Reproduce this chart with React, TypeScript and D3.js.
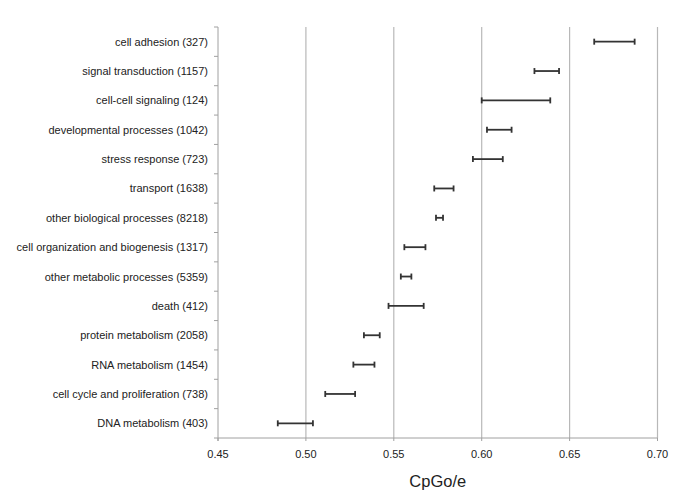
import React from "react";
import * as d3 from "d3";

const categories = [
  "cell adhesion (327)",
  "signal transduction (1157)",
  "cell-cell signaling (124)",
  "developmental processes (1042)",
  "stress response (723)",
  "transport (1638)",
  "other biological processes (8218)",
  "cell organization and biogenesis (1317)",
  "other metabolic processes (5359)",
  "death (412)",
  "protein metabolism (2058)",
  "RNA metabolism (1454)",
  "cell cycle and proliferation (738)",
  "DNA metabolism (403)",
];
const lowValues = [0.664, 0.630, 0.600, 0.603, 0.595, 0.573, 0.574, 0.556, 0.554, 0.547, 0.533, 0.527, 0.511, 0.484];
const highValues = [0.687, 0.644, 0.639, 0.617, 0.612, 0.584, 0.578, 0.568, 0.560, 0.567, 0.542, 0.539, 0.528, 0.504];
const xTicks = [0.45, 0.5, 0.55, 0.6, 0.65, 0.7];
const xLabel = "CpGo/e";

const W = 685;
const H = 496;
const left = 218;
const right = 657.5;
const top = 27;
const bottom = 438;

export default function App() {
  const x = d3.scaleLinear().domain([0.45, 0.7]).range([left, right]);
  const y = d3.scaleBand<string>().domain(categories).range([top, bottom]);
  const font = "Liberation Sans, Arial, Helvetica, sans-serif";
  const bounds = d3.range(categories.length + 1).map((i) => top + i * y.bandwidth());
  return (
    <svg width={W} height={H} style={{ position: "absolute", left: 0, top: 0 }} fontFamily={font}>
      <rect x={0} y={0} width={W} height={H} fill="#fff" />
      {xTicks.slice(1).map((t) => (
        <line key={t} x1={x(t)} x2={x(t)} y1={top} y2={bottom} stroke="#b8b8b8" strokeWidth={1.2} />
      ))}
      <line x1={left} x2={left} y1={top} y2={bottom + 3} stroke="#a0a0a0" strokeWidth={1} />
      <line x1={left} x2={right} y1={bottom} y2={bottom} stroke="#a0a0a0" strokeWidth={1} />
      {bounds.map((b, i) => (
        <line key={i} x1={left - 4} x2={left} y1={b} y2={b} stroke="#a0a0a0" strokeWidth={1} />
      ))}
      {xTicks.map((t) => (
        <line key={"t" + t} x1={x(t)} x2={x(t)} y1={bottom} y2={bottom + 3} stroke="#a0a0a0" strokeWidth={1} />
      ))}
      {categories.map((c, i) => {
        const cy = (y(c) as number) + y.bandwidth() / 2;
        const x1 = x(lowValues[i]);
        const x2 = x(highValues[i]);
        return (
          <g key={c}>
            <text x={208} y={cy} textAnchor="end" dominantBaseline="central" fontSize={11} fill="#222">
              {c}
            </text>
            <line x1={x1} x2={x2} y1={cy} y2={cy} stroke="#333" strokeWidth={1.8} />
            <line x1={x1} x2={x1} y1={cy - 3} y2={cy + 3} stroke="#333" strokeWidth={1.8} />
            <line x1={x2} x2={x2} y1={cy - 3} y2={cy + 3} stroke="#333" strokeWidth={1.8} />
          </g>
        );
      })}
      {xTicks.map((t) => (
        <text key={"l" + t} x={x(t)} y={454} textAnchor="middle" dominantBaseline="central" fontSize={11} fill="#222">
          {d3.format(".2f")(t)}
        </text>
      ))}
      <text x={(left + right) / 2} y={481} textAnchor="middle" dominantBaseline="central" fontSize={16.5} fill="#222">
        {xLabel}
      </text>
    </svg>
  );
}
